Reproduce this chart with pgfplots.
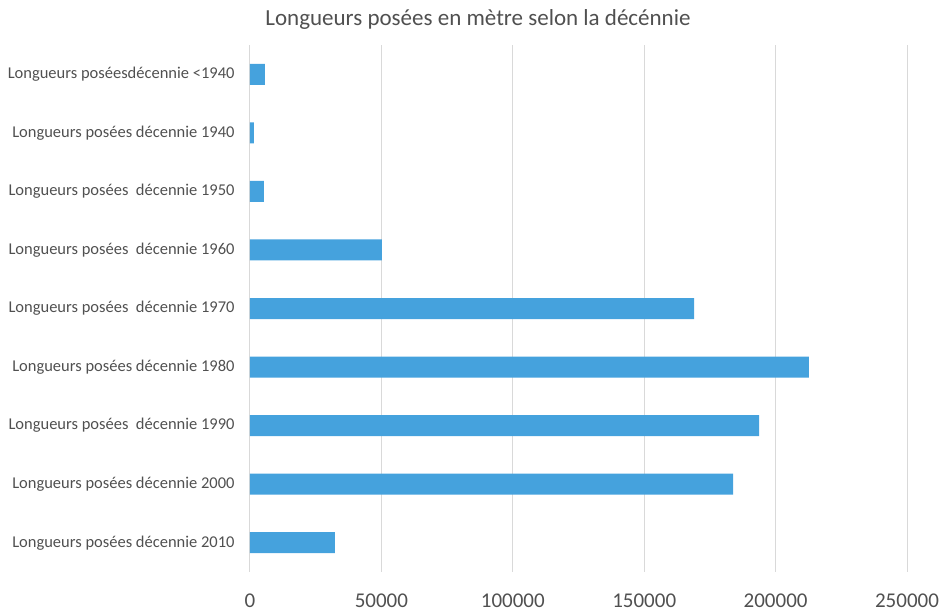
\documentclass[border=0pt]{standalone}
\usepackage{pgfplots}
\pgfplotsset{compat=1.18}
\usepackage{fontspec}
\setmainfont{Carlito}
\definecolor{barblue}{HTML}{45A2DD}
\definecolor{txtgray}{HTML}{505050}
\definecolor{gridgray}{HTML}{D9D9D9}
\begin{document}
\begin{tikzpicture}
\path[use as bounding box] (-250bp,-42bp) rectangle (697bp,572bp);
\begin{axis}[
  at={(0,0)}, anchor=south west,
  scale only axis,
  width=657bp, height=527bp,
  xbar,
  bar width=21bp,
  xmin=0, xmax=250000,
  ymin=-0.5, ymax=8.5,
  y dir=reverse,
  xtick={0,50000,100000,150000,200000,250000},
  xticklabels={0,50000,100000,150000,200000,250000},
  ytick={0,1,2,3,4,5,6,7,8},
  yticklabels={
    Longueurs poséesdécennie <1940,
    Longueurs posées décennie 1940,
    Longueurs posées\ \ décennie 1950,
    Longueurs posées\ \ décennie 1960,
    Longueurs posées\ \ décennie 1970,
    Longueurs posées décennie 1980,
    Longueurs posées\ \ décennie 1990,
    Longueurs posées décennie 2000,
    Longueurs posées décennie 2010},
  scaled x ticks=false,
  xmajorgrids,
  major grid style={gridgray, line width=1pt},
  axis line style={draw=none},
  major tick style={draw=none},
  tick label style={text=txtgray},
  xticklabel style={font=\fontsize{21bp}{24bp}\selectfont, inner sep=0pt, anchor=north},
  xticklabel shift=22bp,
  yticklabel style={font=\fontsize{16.5bp}{19bp}\selectfont, inner sep=0pt, anchor=east},
  yticklabel shift=11bp,
]
\addplot[fill=barblue, draw=none] coordinates {
  (5700,0) (1500,1) (5300,2) (50200,3) (169000,4) (212700,5) (193700,6) (183800,7) (32300,8)
};
\end{axis}
\node[text=txtgray, font=\fontsize{23bp}{26bp}\selectfont] at (228bp,553bp) {Longueurs posées en mètre selon la décénnie};
\end{tikzpicture}
\end{document}
